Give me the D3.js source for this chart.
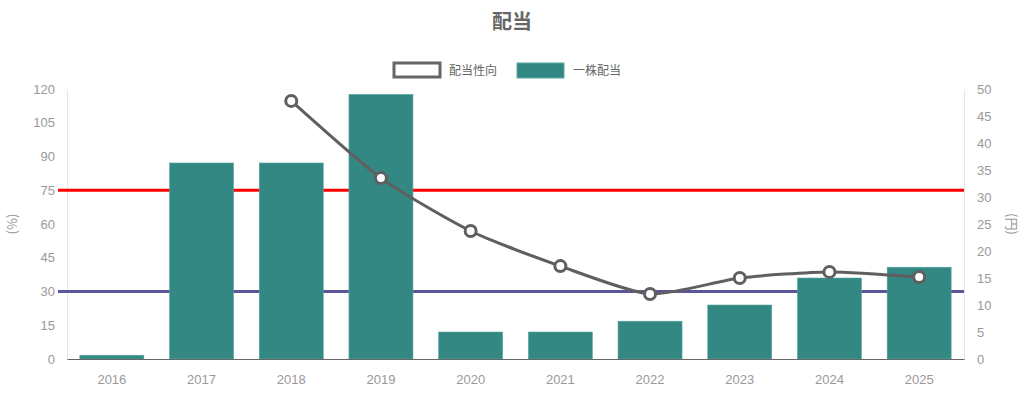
<!DOCTYPE html>
<html>
<head>
<meta charset="utf-8">
<script src="https://cdn.jsdelivr.net/npm/d3@7"></script>
<style>
  body { margin: 0; background: #fff; }
  text { font-family: "Noto Sans CJK JP", "Liberation Sans", sans-serif; }
</style>
</head>
<body>
<script>
// chart data
var years = ["2016","2017","2018","2019","2020","2021","2022","2023","2024","2025"];
var dividend = [0.7, 36.3, 36.3, 49, 5, 5, 7, 10, 15, 17];          // 一株配当 (円)
var payout = [null, null, 114.7, 80.4, 56.9, 41.3, 28.9, 36, 38.7, 36.4]; // 配当性向 (%)
var leftTicks = [0, 15, 30, 45, 60, 75, 90, 105, 120];
var rightTicks = [0, 5, 10, 15, 20, 25, 30, 35, 40, 45, 50];
var refLines = [{v: 75, color: "#ff0000"}, {v: 30, color: "#5b559c"}];

var width = 1024, height = 393;
var margin = {top: 89, right: 60, bottom: 34, left: 67};

var svg = d3.select("body").append("svg")
  .attr("width", width)
  .attr("height", height);

var x = d3.scaleBand()
  .domain(years)
  .range([margin.left, width - margin.right]);

var yL = d3.scaleLinear().domain([0, 120]).range([height - margin.bottom, margin.top]);
var yR = d3.scaleLinear().domain([0, 50]).range([height - margin.bottom, margin.top]);

// title
svg.append("text")
  .attr("x", 512).attr("y", 29)
  .attr("text-anchor", "middle")
  .attr("font-size", 20).attr("font-weight", "bold")
  .attr("fill", "#666")
  .text("配当");

// legend
var lg = svg.append("g");
lg.append("rect").attr("x", 394).attr("y", 63).attr("width", 46).attr("height", 14)
  .attr("fill", "#fff").attr("stroke", "#666").attr("stroke-width", 3);
lg.append("text").attr("x", 449).attr("y", 75).attr("font-size", 12).attr("fill", "#666").text("配当性向");
lg.append("rect").attr("x", 517).attr("y", 63).attr("width", 47).attr("height", 15)
  .attr("fill", "#348883").attr("stroke", "#5aa7a2").attr("stroke-width", 1);
lg.append("text").attr("x", 573).attr("y", 75).attr("font-size", 12).attr("fill", "#666").text("一株配当");

// axes
var axL = svg.append("g")
  .attr("transform", "translate(" + margin.left + ",0)")
  .call(d3.axisLeft(yL).tickValues(leftTicks).tickSize(0).tickPadding(12));
var axR = svg.append("g")
  .attr("transform", "translate(" + (width - margin.right) + ",0)")
  .call(d3.axisRight(yR).tickValues(rightTicks).tickSize(0).tickPadding(13));
var axB = svg.append("g")
  .attr("transform", "translate(0," + (height - margin.bottom) + ")")
  .call(d3.axisBottom(x).tickSize(0).tickPadding(16));

[axL, axR, axB].forEach(function(a){
  a.selectAll("text").attr("fill", "#999").attr("font-size", 13)
    .style("font-family", "'Liberation Sans', Arial, sans-serif");
});
axL.select(".domain").attr("stroke", "#e6e6e6");
axR.select(".domain").attr("stroke", "#e6e6e6");
axB.select(".domain").attr("stroke", "#666");

// axis titles
svg.append("text")
  .attr("transform", "translate(17," + yL(60) + ") rotate(-90)")
  .attr("text-anchor", "middle").attr("font-size", 13).attr("fill", "#999")
  .text("(%)");
svg.append("text")
  .attr("transform", "translate(1007," + yR(25) + ") rotate(90)")
  .attr("text-anchor", "middle").attr("font-size", 13).attr("fill", "#999")
  .text("(円)");

// reference lines (behind bars)
svg.selectAll(".ref").data(refLines).enter().append("line")
  .attr("x1", margin.left - 9).attr("x2", width - margin.right)
  .attr("y1", function(d){ return yL(d.v); })
  .attr("y2", function(d){ return yL(d.v); })
  .attr("stroke", function(d){ return d.color; })
  .attr("stroke-width", 3);

// bars
var bw = 64;
svg.selectAll(".bar").data(years).enter().append("rect")
  .attr("x", function(d){ return x(d) + (x.bandwidth() - bw) / 2; })
  .attr("width", bw)
  .attr("y", function(d, i){ return yR(dividend[i]); })
  .attr("height", function(d, i){ return yR(0) - yR(dividend[i]); })
  .attr("fill", "#348883")
  .attr("stroke", "#5aa7a2").attr("stroke-width", 0.6);

axB.raise();

// payout line
var pts = years.map(function(d, i){ return {year: d, v: payout[i]}; })
  .filter(function(d){ return d.v != null; });

var line = d3.line()
  .x(function(d){ return x(d.year) + x.bandwidth() / 2; })
  .y(function(d){ return yL(d.v); })
  .curve(d3.curveCardinal.tension(0.35));

svg.append("path").datum(pts)
  .attr("d", line)
  .attr("fill", "none")
  .attr("stroke", "#5f5f5f")
  .attr("stroke-width", 3);

svg.selectAll(".pt").data(pts).enter().append("circle")
  .attr("cx", function(d){ return x(d.year) + x.bandwidth() / 2; })
  .attr("cy", function(d){ return yL(d.v); })
  .attr("r", 5.5)
  .attr("fill", "#fff")
  .attr("stroke", "#5f5f5f")
  .attr("stroke-width", 3);
</script>
</body>
</html>
